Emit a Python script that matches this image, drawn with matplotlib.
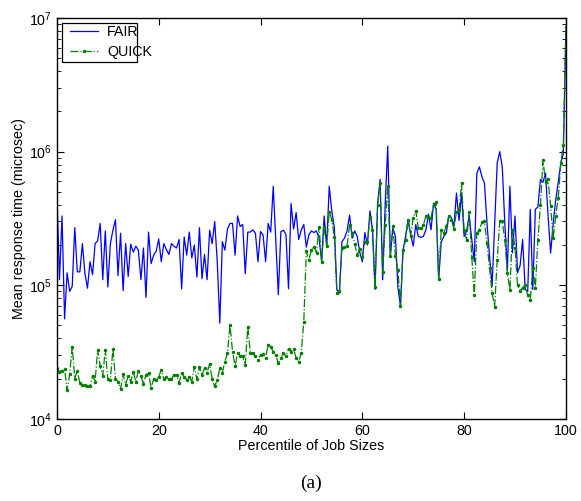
import numpy as np
import matplotlib
matplotlib.use('Agg')
import matplotlib.pyplot as plt
from matplotlib.patches import Rectangle

plt.rcParams['font.family'] = ['Liberation Sans', 'DejaVu Sans']
plt.rcParams['mathtext.fontset'] = 'custom'
plt.rcParams['mathtext.rm'] = 'Liberation Sans'
plt.rcParams['mathtext.it'] = 'Liberation Sans'

# mean response time in thousands of microseconds, one value per half percentile
fair_k = [490, 110, 330, 56, 124, 90, 98, 270, 126, 126, 205, 122, 95, 150, 120, 205, 215,
          290, 110, 255, 97, 205, 258, 310, 118, 245, 91, 205, 116, 203, 177, 196, 183, 110,
          190, 81, 250, 145, 168, 180, 222, 150, 205, 185, 170, 205, 196, 190, 220, 94, 230,
          168, 250, 160, 200, 115, 270, 112, 170, 110, 258, 205, 300, 150, 52,
          212, 183, 263, 290, 290, 168, 330, 275, 285, 122, 250, 250, 260, 245, 150, 252, 238,
          150, 290, 250, 550, 220, 85, 252, 258, 240, 94, 410, 263, 350, 220, 258, 285, 193,
          238, 255,
          248, 255, 225, 150, 330, 196, 550, 360, 270, 93, 87, 212, 225, 255, 335, 225, 255,
          232, 176, 150, 248, 200, 360, 260, 93, 400, 620, 110, 410, 1100, 165, 270, 232, 96,
          70, 183, 232, 310, 240, 196, 285, 232, 228, 232, 260, 340, 260, 410, 370, 110, 210,
          232, 245, 330, 320, 275, 490, 305, 490, 232, 255, 330, 220, 150, 690, 770, 650,
          580, 290, 165, 98, 290, 820, 1000, 770, 290, 130, 550, 175, 330, 124, 140, 220, 93,
          90, 370, 93, 370, 385, 620, 590, 690, 330, 174, 290, 435, 590, 820, 970, 8100]

quick_k = [23.9, 22.6, 23, 23.5, 16.5, 21.5, 34.7, 20, 23, 18.5, 18, 17.8, 17.5, 17.6, 21, 19,
           33, 25, 21, 33, 20, 19.5, 33.5, 20, 19, 16.7, 21.5, 18, 21, 19, 22.5, 19, 23, 21,
           18.3, 21.3, 22, 17, 19.8, 19.6, 20.7, 23.3, 19.8, 20.7, 19.8, 19.8, 21.3, 21.3, 18.7,
           22, 20.7, 19.6, 20.7, 19, 24.6, 19.8, 24.4, 21.3, 23.9, 22.2, 25.8, 19.8, 17.5, 19.6,
           23.9,
           22.2, 26.8, 31, 50.5, 31.8, 24.8, 31, 29.6, 29.4, 25.2, 49, 31, 31, 29.4, 27.6, 30,
           30.5, 28.5, 35.8, 34.7, 31.8, 30, 26, 28.5, 31, 29.4, 33.5, 31.8, 33.5, 28.5, 26.8,
           31, 53.5, 179, 155, 183,
           193, 175, 275, 150, 275, 195, 356, 310, 230, 87, 90, 190, 193, 197, 282, 245, 205,
           168, 188, 163, 210, 210, 325, 260, 97, 400, 580, 126, 282, 550, 165, 278, 165, 130,
           70, 183, 218, 310, 232, 320, 361, 270, 270, 282, 330, 325, 320, 400, 420, 112, 260,
           245, 278, 330, 310, 265, 355, 365, 580, 260, 218, 355, 164, 85, 245, 260, 295,
           300, 207, 134, 87, 69, 155, 300, 300, 218, 123, 92, 260, 190, 100, 91, 96, 100, 84,
           77, 135, 96, 218, 400, 865, 590, 620, 390, 225, 330, 450, 820, 1120, 8500]

percentile = np.arange(0, 100.5, 0.5)
fair = np.array(fair_k) * 1000
quick = np.array(quick_k) * 1000

fs = 10.3

fig = plt.figure(figsize=(5.81, 5.01), dpi=100)
ax = fig.add_axes([0.098, 0.164, 0.876, 0.800])

ax.plot(percentile, fair, color='#0000ff', lw=0.9, label='FAIR')
ax.plot(percentile, quick, color='#008000', lw=0.9, ls='-.', marker='.', ms=3,
        label='QUICK')

ax.set_yscale('log')
ax.set_xlim(0, 100)
ax.set_ylim(1e4, 1e7)
ax.set_xticks([0, 20, 40, 60, 80, 100])
ax.tick_params(which='both', direction='in', top=True, right=True, labelsize=fs)
ax.tick_params(which='major', length=5)
ax.tick_params(which='minor', length=3)
for s in ax.spines.values():
    s.set_linewidth(1.0)

ax.set_xlabel('Percentile of Job Sizes', fontsize=fs, labelpad=1)
ax.set_ylabel('Mean response time (microsec)', fontsize=fs, labelpad=2)

# matlab-style legend: box narrower than its text
ax.add_patch(Rectangle((0.0098, 0.890), 0.147, 0.0975, transform=ax.transAxes,
                       facecolor='white', edgecolor='black', lw=0.9, zorder=4))
leg = ax.legend(loc='upper left', bbox_to_anchor=(0.0255, 0.982), fontsize=fs,
                frameon=False, borderpad=0, borderaxespad=0, handlelength=1.95,
                handletextpad=0.65, labelspacing=0.38)
leg.set_zorder(5)

fig.text(0.536, 0.035, '(a)', ha='center', va='center', fontsize=14,
         family=['Liberation Serif', 'DejaVu Serif'])

fig.savefig('out.png', dpi=100)
